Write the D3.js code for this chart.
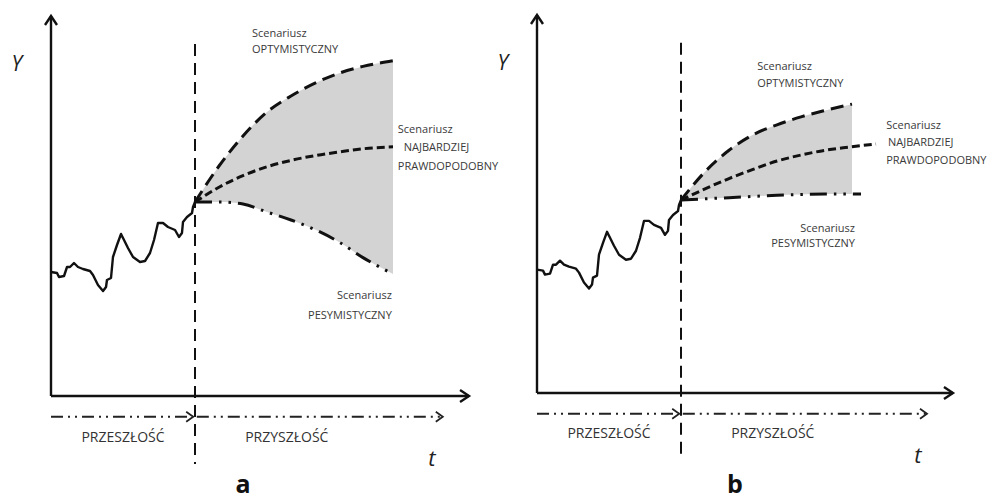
<!DOCTYPE html>
<html><head><meta charset="utf-8">
<script src="https://cdn.jsdelivr.net/npm/d3@7"></script>
<style>html,body{margin:0;padding:0;background:#fff;}svg{display:block;}</style>
</head><body>
<svg id="c" width="991" height="501"></svg>
<script>
// ---- data ----
const pastT = [0,1,1.33,2.17,2.67,3.17,3.83,4.5,5.33,6.5,7,7.83,8.67,9.17,9.33,10,10.33,11,11.67,12.17,12.83,13.67,14.83,15.67,16.5,17.17,17.83,18.67,19.5,20.67,21.33,21.83,22,22.67,23.5,23.67,24];
const pastY = [31,30.75,29.75,30,32.25,32.25,33.25,32.25,31.75,31.25,30.25,27.75,26.25,27.25,29,29.5,34.75,37.75,40.5,39,37,34.75,33.5,33.75,35.75,39,43.25,43.25,42.25,41.5,39.75,40.75,43.5,44.75,45.75,47.25,48.5];

// panel a scenarios
const futTa = [24,28,32,36,40,44,48,52,57];
const optA  = [48.5,57.5,65,71,75,78.2,80.7,82.4,83.8];
const mostA = [48.5,52.2,55.1,57.3,58.9,60.1,61,61.8,62.3];
const pessA = [48.5,48.5,48,46,44,41.6,38.5,34.6,30.5];

// panel b scenarios
const optTb  = [24,28,32,36,40,44,48,52.5];
const optB   = [48.5,55.6,61,64.9,67.4,69.4,71,72.6];
const mostTb = [24,28,32,36,40,44,48,52,56.5];
const mostB  = [48.5,51.3,53.9,56.2,58.3,59.8,61,61.8,62.6];
const pessTb = [24,28,32,36,40,44,48,52.5,54];
const pessB  = [48.5,48.8,49.1,49.4,49.7,49.9,50,50,50];

const periodLabels = ["PRZESZŁOŚĆ","PRZYSZŁOŚĆ"];
const scenarioWord = "Scenariusz";
const scenarioNames = ["OPTYMISTYCZNY","NAJBARDZIEJ","PRAWDOPODOBNY","PESYMISTYCZNY"];
const panelNames = ["a","b"];

// ---- drawing ----
const svg = d3.select("#c");
const FONT = "'Open Sans', 'Noto Sans', sans-serif";

function zip(t, v){ return t.map((d,i)=>({t:d, v:v[i]})); }

function panel(cfg){
  const x = d3.scaleLinear().domain([0,70]).range([cfg.x0, cfg.x0+420]);
  const y = d3.scaleLinear().domain([0,95]).range([cfg.yb, cfg.yt]);
  const g = svg.append("g");
  const line = d3.line().x(d=>x(d.t)).y(d=>y(d.v)).curve(d3.curveMonotoneX);
  const lineLin = d3.line().x(d=>x(d.t)).y(d=>y(d.v));

  // fan fill
  const n = cfg.fillN;
  const fillData = cfg.opt.slice(0,n).map((d,i)=>({t:d.t, hi:d.v, lo:cfg.pess[i].v}));
  g.append("path").datum(fillData)
    .attr("d", d3.area().x(d=>x(d.t)).y0(d=>y(d.lo)).y1(d=>y(d.hi)).curve(d3.curveMonotoneX))
    .attr("fill","#d3d3d3").attr("stroke","none");

  // axes
  const ax = "#111";
  g.append("line").attr("x1",x(0)).attr("y1",y(0)).attr("x2",x(0)).attr("y2",y(95))
    .attr("stroke",ax).attr("stroke-width",2.4);
  g.append("line").attr("x1",x(0)).attr("y1",y(0)).attr("x2",x(cfg.xEnd)).attr("y2",y(0))
    .attr("stroke",ax).attr("stroke-width",2.4);
  const yt = y(95), xt = x(cfg.xEnd), y0 = y(0);
  g.append("path").attr("d",`M${x(0)-6},${yt+9}L${x(0)},${yt}L${x(0)+6},${yt+9}`)
    .attr("fill","none").attr("stroke",ax).attr("stroke-width",2.4);
  g.append("path").attr("d",`M${xt-9},${y0-6}L${xt},${y0}L${xt-9},${y0+6}`)
    .attr("fill","none").attr("stroke",ax).attr("stroke-width",2.4);

  // vertical divider
  g.append("line").attr("x1",x(24)).attr("x2",x(24)).attr("y1",y(88)).attr("y2",y(-17))
    .attr("stroke","#111").attr("stroke-width",2).attr("stroke-dasharray","12,7");

  // time arrows
  const ta = -5.2;
  const drawTimeArrow = (a,b)=>{
    g.append("line").attr("x1",x(a)).attr("x2",x(b)).attr("y1",y(ta)).attr("y2",y(ta))
      .attr("stroke","#222").attr("stroke-width",2).attr("stroke-dasharray","12,5,2,5,2,5");
    g.append("path").attr("d",`M${x(b)-7},${y(ta)-5}L${x(b)},${y(ta)}L${x(b)-7},${y(ta)+5}`)
      .attr("fill","none").attr("stroke","#222").attr("stroke-width",1.8);
  };
  drawTimeArrow(0,23.7);
  drawTimeArrow(24.3,cfg.tEnd);

  // history
  g.append("path").datum(zip(pastT,pastY)).attr("d",lineLin)
    .attr("fill","none").attr("stroke","#111").attr("stroke-width",2.4).attr("stroke-linejoin","round");

  // scenarios
  g.append("path").datum(cfg.opt).attr("d",line).attr("fill","none").attr("stroke","#111")
    .attr("stroke-width",3).attr("stroke-dasharray","13,7");
  g.append("path").datum(cfg.most).attr("d",line).attr("fill","none").attr("stroke","#111")
    .attr("stroke-width",3).attr("stroke-dasharray","8,4");
  g.append("path").datum(cfg.pess).attr("d",line).attr("fill","none").attr("stroke","#111")
    .attr("stroke-width",3).attr("stroke-dasharray","17,7,2.5,7,2.5,7");

  // labels
  const txt = (t,v,s,opts={})=>g.append("text").attr("x",x(t)).attr("y",y(v))
    .attr("dominant-baseline",opts.baseline||"central").attr("font-family",FONT)
    .attr("font-size",opts.size||11).attr("fill",opts.fill||"#3a3a3a")
    .attr("text-anchor",opts.anchor||"start")
    .attr("font-style",opts.italic?"italic":"normal")
    .attr("font-weight",opts.bold?"bold":"normal").text(s);

  const L = cfg.labels;
  txt(L.opt[0],L.opt[1],scenarioWord);
  txt(L.opt[0],L.opt[2],scenarioNames[0]);
  txt(L.most[0],L.most[1],scenarioWord);
  txt(L.most[2],L.most[3],scenarioNames[1]);
  txt(L.most[0],L.most[4],scenarioNames[2]);
  txt(L.pess[0],L.pess[1],scenarioWord,{anchor:"end"});
  txt(L.pess[0],L.pess[2],scenarioNames[3],{anchor:"end"});

  txt(12,-10,periodLabels[0],{size:14,anchor:"middle",fill:"#333"});
  txt(39.3,-10,periodLabels[1],{size:14,anchor:"middle",fill:"#333"});
  txt(63.5,-15.3,"t",{size:22,italic:true,anchor:"middle",fill:"#222"});
  txt(-5.7,83.2,"Y",{size:21,italic:true,anchor:"middle",fill:"#222"});
  txt(cfg.nameT,cfg.nameV,cfg.name,{size:25,bold:true,anchor:"middle",fill:"#111",baseline:"alphabetic"});
}

panel({
  x0:51, yb:396, yt:16, xEnd:69.67, tEnd:65.3, fillN:9, name:panelNames[0], nameT:32, nameV:-24.2,
  opt:zip(futTa,optA), most:zip(futTa,mostA), pess:zip(futTa,pessA),
  labels:{opt:[33.5,91,87], most:[57.8,67,58.8,62.5,57.7], pess:[56.8,25.5,20.5]}
});
panel({
  x0:537, yb:393, yt:15, xEnd:69.33, tEnd:65, fillN:8, name:panelNames[1], nameT:33, nameV:-25.1,
  opt:zip(optTb,optB), most:zip(mostTb,mostB), pess:zip(pessTb,pessB),
  labels:{opt:[36.7,82.4,78.1], most:[58.2,67.6,58.5,63.1,58.8], pess:[53,41.7,37.7]}
});
</script>
</body></html>
